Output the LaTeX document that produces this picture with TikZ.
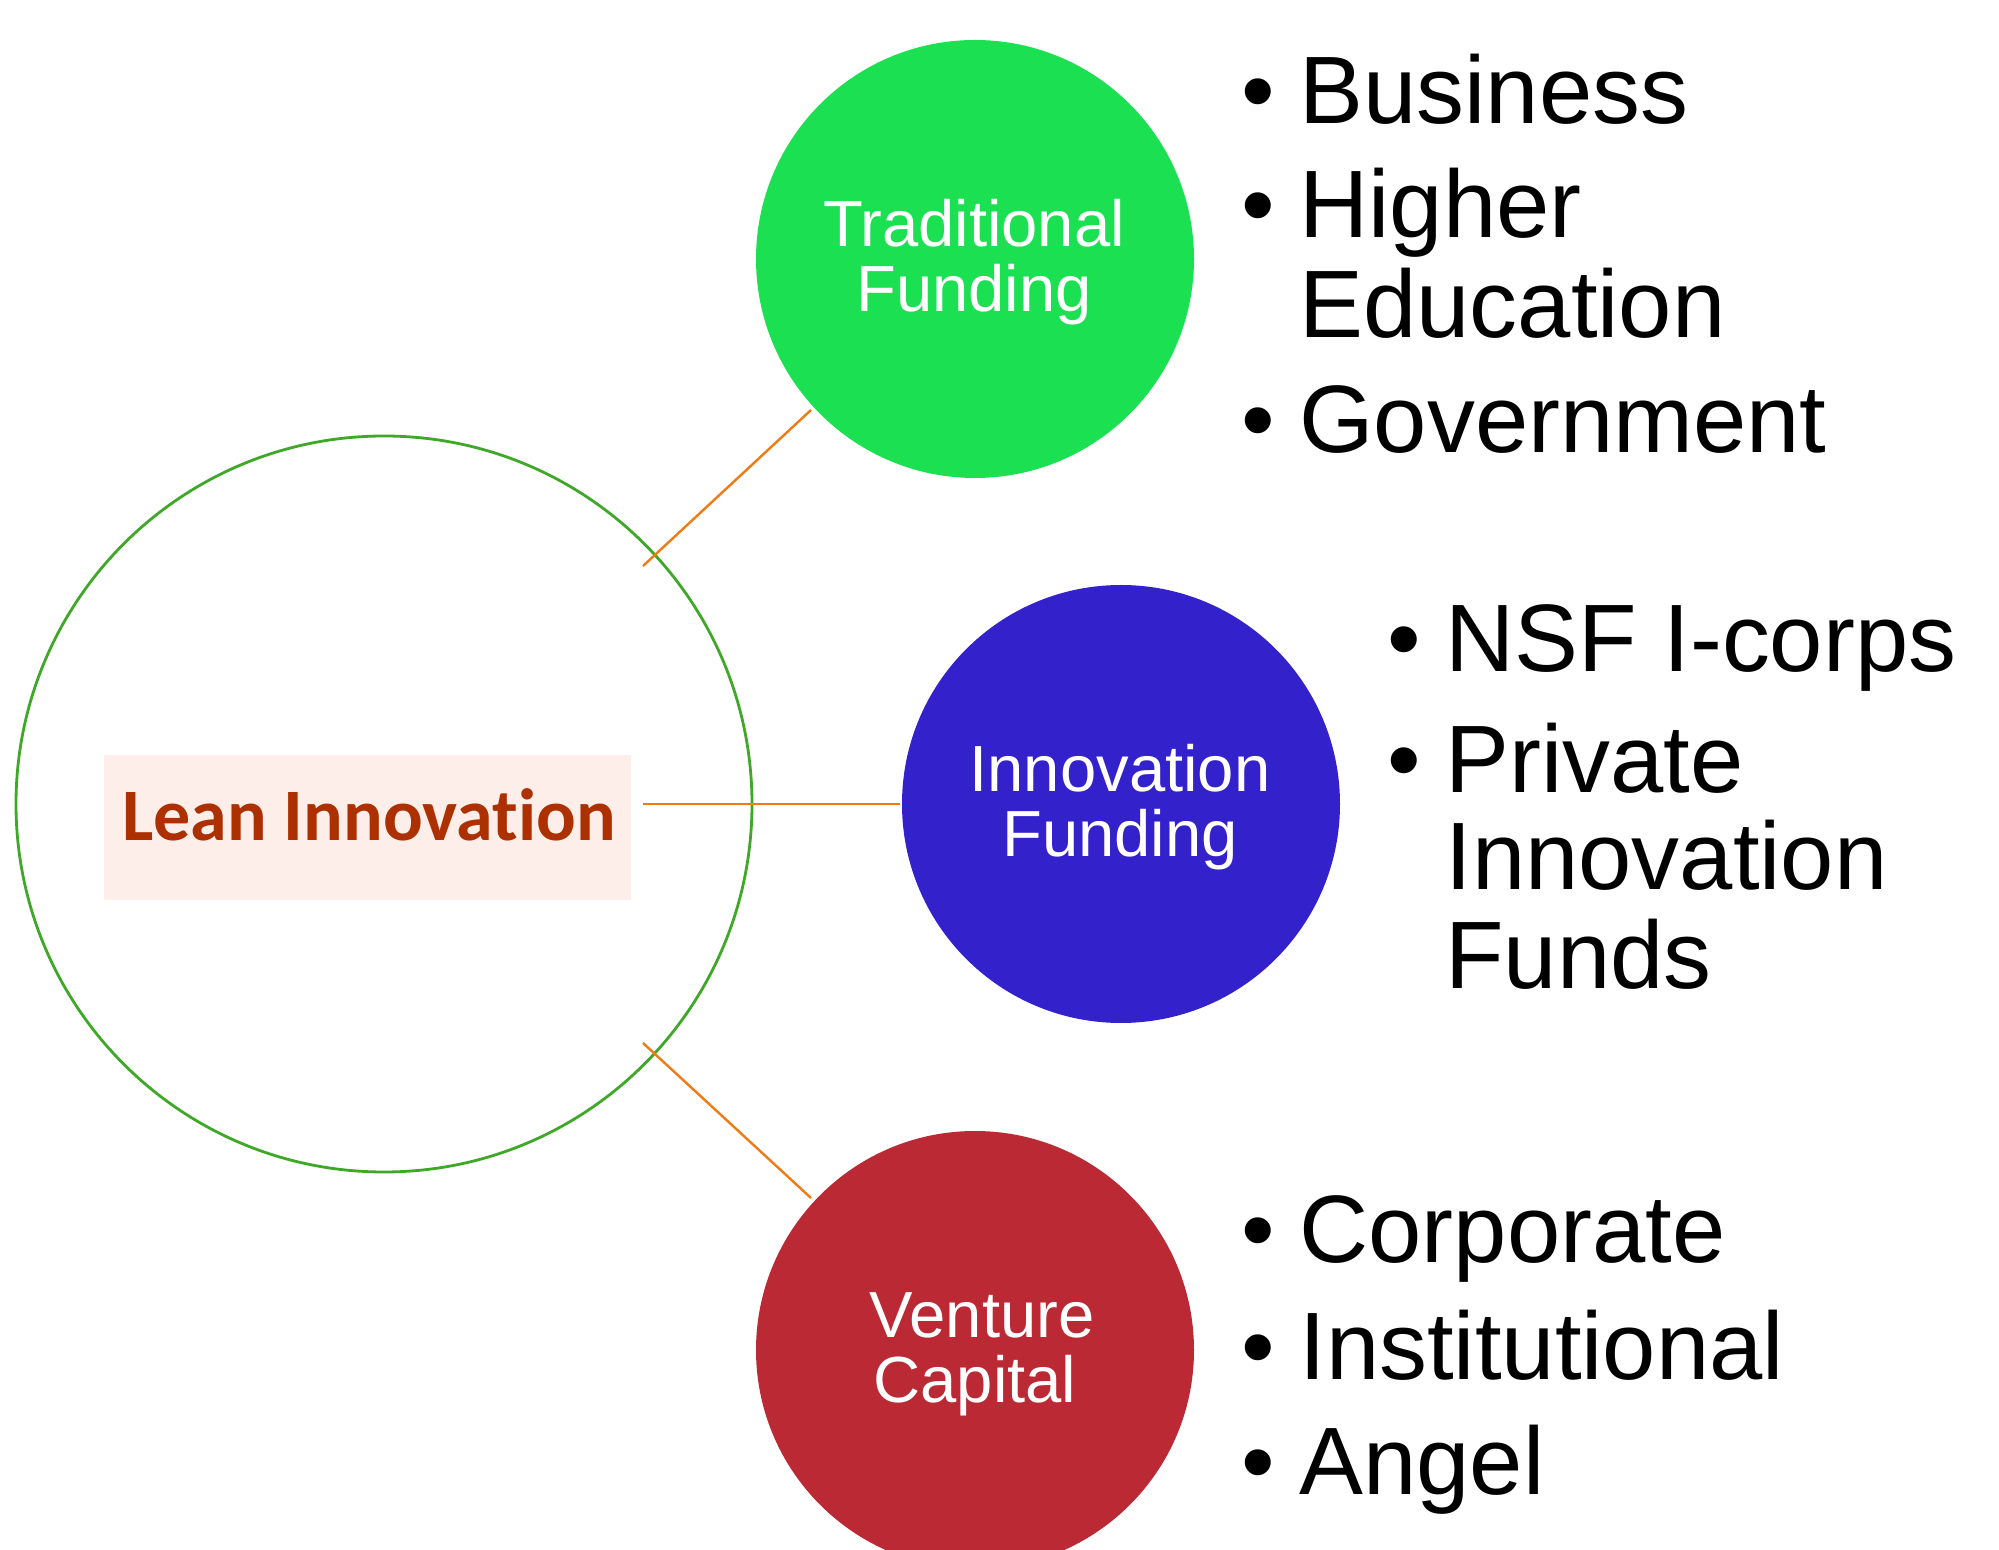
\documentclass[tikz,border=0pt]{standalone}
\usepackage{fontspec}
\setmainfont{Liberation Sans}
\newfontfamily\titlefont[Ligatures=NoCommon]{Carlito}
\definecolor{tradgreen}{RGB}{27,225,82}
\definecolor{innoblue}{RGB}{51,33,203}
\definecolor{ventred}{RGB}{187,42,52}
\definecolor{ringgreen}{RGB}{64,168,40}
\definecolor{linkorange}{RGB}{240,122,20}
\definecolor{titlered}{RGB}{172,48,0}
\definecolor{titlebg}{RGB}{253,238,234}
\tikzset{
  fundcircle/.style={circle, inner sep=0pt, minimum size=219pt},
  circlabel/.style={anchor=base, inner sep=0pt, text=white, font=\fontsize{32.6}{34}\selectfont},
  link/.style={draw=linkorange, line width=1.2pt},
  bul/.style={anchor=base west, inner sep=0pt, font=\fontsize{47.9}{50}\selectfont},
}
\begin{document}
\begin{tikzpicture}[x=0.5pt,y=-0.5pt]
\useasboundingbox (0,0) rectangle (1999,1550);
\fill[white] (0,0) rectangle (1999,1550);
\begin{scope}
\clip (0,0) rectangle (1999,1550);
% central ring
\node[circle, draw=ringgreen, line width=1.4pt, minimum size=368pt, inner sep=0pt] (lean) at (384,804) {};
\node[fill=titlebg, minimum width=263.5pt, minimum height=72.5pt, inner sep=0pt] (titlebox) at (367.5,827.5) {};
\node[anchor=base, inner sep=0pt, text=titlered, font=\titlefont\bfseries\fontsize{37}{40}\selectfont] (title) at (369,841) {Lean Innovation};
% funding circles
\node[fundcircle, fill=tradgreen] (trad) at (975,259) {};
\node[fundcircle, fill=innoblue] (inno) at (1121,804) {};
\node[fundcircle, fill=ventred] (vent) at (975,1350) {};
% circle labels
\node[circlabel] (tradA) at (974,247) {Traditional};
\node[circlabel] (tradB) at (974,312) {Funding};
\node[circlabel] (innoA) at (1120,792) {Innovation};
\node[circlabel] (innoB) at (1120,857) {Funding};
\node[circlabel] (ventA) at (982,1337) {Venture};
\node[circlabel] (ventB) at (975,1402) {Capital};
% connectors
\coordinate (la) at (643,566);
\coordinate (lb) at (643,804);
\coordinate (lc) at (643,1043);
\coordinate (ta) at (811,410);
\coordinate (tb) at (900,804);
\coordinate (tc) at (811,1198);
\draw[link] (la) -- (ta);
\draw[link] (lb) -- (tb);
\draw[link] (lc) -- (tc);
\end{scope}
% bullet lists
\node[bul] (b1) at (1241,124) {•};
\node[bul] (t1) at (1299,124) {Business};
\node[bul] (b2) at (1241,238) {•};
\node[bul] (t2) at (1299,238) {Higher};
\node[bul] (t2b) at (1299,338) {Education};
\node[bul] (b3) at (1241,453) {•};
\node[bul] (t3) at (1299,453) {Government};
\node[bul] (b4) at (1387,672) {•};
\node[bul] (t4) at (1445,672) {NSF I-corps};
\node[bul] (b5) at (1387,793) {•};
\node[bul] (t5) at (1445,793) {Private};
\node[bul] (t5b) at (1445,890) {Innovation};
\node[bul] (t5c) at (1445,989) {Funds};
\node[bul] (b6) at (1241,1262) {•};
\node[bul] (t6) at (1299,1262) {Corporate};
\node[bul] (b7) at (1241,1379) {•};
\node[bul] (t7) at (1299,1379) {Institutional};
\node[bul] (b8) at (1241,1494) {•};
\node[bul] (t8) at (1299,1494) {Angel};
\end{tikzpicture}
\end{document}
